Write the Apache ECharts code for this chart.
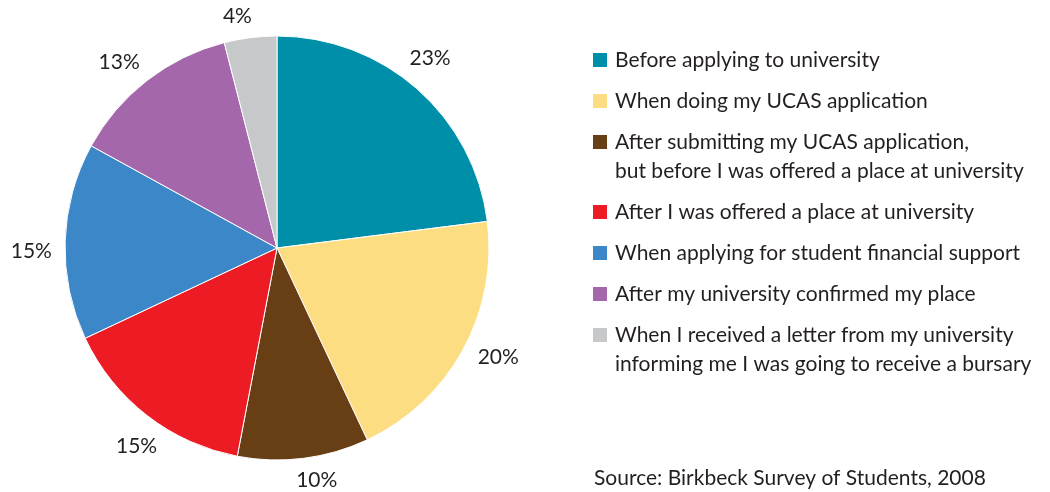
<!DOCTYPE html>
<html>
<head>
<meta charset="utf-8">
<style>
  html, body { margin: 0; padding: 0; background: #fff; }
  #chart { width: 1050px; height: 492px; }
</style>
<script src="https://cdn.jsdelivr.net/npm/echarts@6/dist/echarts.min.js"></script>
</head>
<body>
<div id="chart"></div>
<script>
// When students first heard about bursaries (share of respondents, %)
const stages = [
  'Before applying to university',
  'When doing my UCAS application',
  'After submitting my UCAS application,\nbut before I was offered a place at university',
  'After I was offered a place at university',
  'When applying for student financial support',
  'After my university confirmed my place',
  'When I received a letter from my university\ninforming me I was going to receive a bursary'
];
const shares = [23, 20, 10, 15, 15, 13, 4];
const colors = ['#008fa8', '#fcdd82', '#683e14', '#ed1c24', '#3b87c8', '#a567ab', '#c7c8ca'];
const sourceNote = 'Source: Birkbeck Survey of Students, 2008';

const FONT = 'Lato, "Open Sans", sans-serif';
const TEXT_COLOR = '#231f20';
const PIE_CENTER = [277, 248];
const PIE_RADIUS = 212;
const LABEL_GAP = 13;
const LABEL_TURN = -2.5 * Math.PI / 180; // value labels sit a touch counter-clockwise of mid-slice

const chart = echarts.init(document.getElementById('chart'), null, { renderer: 'canvas' });

// Legend built as graphic elements so multi-line entries keep the swatch on the first line
const legendGraphics = [];
const LEG_X = 593, LEG_TOP = 53, SW = 14, LINE_H = 29, ITEM_GAP = 12;
let y = LEG_TOP;
stages.forEach((name, i) => {
  const lines = name.split('\n').length;
  legendGraphics.push({
    type: 'rect', left: LEG_X, top: y,
    shape: { width: SW, height: SW },
    style: { fill: colors[i] }, silent: true
  });
  legendGraphics.push({
    type: 'text', x: LEG_X + 22, y: y + SW / 2 - LINE_H / 2,
    style: { text: name, font: '21px ' + FONT, fill: TEXT_COLOR, lineHeight: LINE_H, verticalAlign: 'top', align: 'left' },
    silent: true
  });
  y += lines * LINE_H + ITEM_GAP;
});
legendGraphics.push({
  type: 'text', x: 594, y: 478,
  style: { text: sourceNote, font: '21px ' + FONT, fill: TEXT_COLOR, verticalAlign: 'middle', align: 'left' },
  silent: true
});

chart.setOption({
  animation: false,
  backgroundColor: '#ffffff',
  color: colors,
  graphic: legendGraphics,
  series: [{
    type: 'pie',
    center: PIE_CENTER,
    radius: PIE_RADIUS,
    startAngle: 90,
    clockwise: true,
    silent: true,
    itemStyle: { borderColor: '#ffffff', borderWidth: 1 },
    label: {
      show: true,
      position: 'inside',
      formatter: '{c}%',
      color: TEXT_COLOR,
      fontFamily: FONT,
      fontSize: 21
    },
    labelLine: { show: false },
    // push each value label radially outward so its box sits just outside the rim
    labelLayout: function (p) {
      const r = p.labelRect;
      const cx = r.x + r.width / 2, cy = r.y + r.height / 2;
      let a = Math.atan2(cy - PIE_CENTER[1], cx - PIE_CENTER[0]) + LABEL_TURN;
      const dx = Math.cos(a), dy = Math.sin(a);
      const ext = (r.width / 2) * Math.abs(dx) + (r.height / 2 - 3) * Math.abs(dy);
      const d = PIE_RADIUS + LABEL_GAP + ext;
      return { x: PIE_CENTER[0] + dx * d, y: PIE_CENTER[1] + dy * d, align: 'center', verticalAlign: 'middle' };
    },
    data: stages.map((name, i) => ({ name: name, value: shares[i] }))
  }]
});
</script>
</body>
</html>
